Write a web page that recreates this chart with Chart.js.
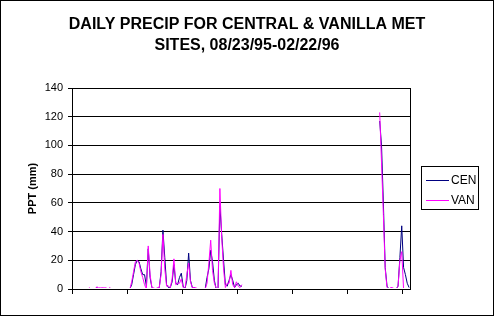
<!DOCTYPE html>
<html>
<head>
<meta charset="utf-8">
<script src="https://cdn.jsdelivr.net/npm/chart.js@4"></script>
<style>
  html, body { margin: 0; padding: 0; background: #fff; }
  canvas { display: block; }
</style>
</head>
<body>
<canvas id="chart" width="494" height="316"></canvas>
<script>
const FONT = "'Liberation Sans', Arial, sans-serif"
const _ = null // missing days

const titleLines = ['DAILY PRECIP FOR CENTRAL & VANILLA MET', 'SITES, 08/23/95-02/22/96']
const yTitle = 'PPT (mm)'
const yTicks = [0, 20, 40, 60, 80, 100, 120, 140]
const seriesNames = ['CEN', 'VAN']
const seriesColors = ['#000080', '#ff00ff']

// one category per day, 08/23/95 .. 02/22/96
const days = []
for (let i = 0; i < 184; i++) {
  const d = new Date(1995, 7, 23 + i)
  const p = n => String(n).padStart(2, '0')
  days.push(p(d.getMonth() + 1) + '/' + p(d.getDate()) + '/' + p(d.getFullYear() % 100))
}

// daily precipitation, mm
const CEN = [
  0, 0, 0, 0, 0, 0, 0, 0, 0, 0,
  0, 0, 0, 1, 0, 0, 0.5, 0, 0, 0,
  0, 0, 0, 0, 0, 0, 0, 0, 0, 0,
  0, 0, 3, 10, 17, 20, 19, 14, 10, 10,
  2, 28, 8, 1, 0, 0, 0, 1, 12, 41,
  22, 3, 1, 1, 5, 17, 4, 3, 8, 11,
  2, 0, 6, 25, 6, 1, 1, 0, 0, 0,
  0, 0, 0, 8, 14, 27, 19, 6, 0, 0,
  58, 38, 20, 3, 2, 6, 10, 6, 1, 3,
  4, 2, 2, _, _, _, _, _, _, _,
  _, _, _, _, _, _, _, _, _, _,
  _, _, _, _, _, _, _, _, _, _,
  _, _, _, _, _, _, _, _, _, _,
  _, _, _, _, _, _, _, _, _, _,
  _, _, _, _, _, _, _, _, _, _,
  _, _, _, _, _, _, _, _, _, _,
  _, _, _, _, _, _, _, 117, 100, 60,
  15, 2, 0, 0, 0, 0, 0, 2, 22, 44,
  15, 10, 4, 1
]
const VAN = [
  0, 0, 0, 0, 0, 0, 0, 0, 0, 0.8,
  0, 0, 0, 1.5, 0.8, 0.8, 0.8, 0.8, 0.8, 0,
  1, 0, 0, 0, 0, 0, 0, 0, 0, 0,
  0, 0, 5, 12, 19, 20, 18, 12, 8, 3,
  0, 30, 10, 1, 0.8, 0, 1, 1, 10, 38,
  14, 2, 2, 1, 7, 21, 3, 4, 4, 7,
  1, 0, 10, 18, 5, 1, 1, 0.8, 0, 0,
  0, 0, 0, 4, 18, 34, 13, 4, 0.8, 0,
  70, 36, 14, 1, 4, 4, 13, 3, 1, 5,
  2, 1, 3, _, _, _, _, _, _, _,
  _, _, _, _, _, _, _, _, _, _,
  _, _, _, _, _, _, _, _, _, _,
  _, _, _, _, _, _, _, _, _, _,
  _, _, _, _, _, _, _, _, _, _,
  _, _, _, _, _, _, _, _, _, _,
  _, _, _, _, _, _, _, _, _, _,
  _, _, _, _, _, _, _, 123, 88, 52,
  14, 1, 0, 1, 1, 0, 0, 2, 20, 26,
  0, 0, 0, 0
]

// white page, title, outer frame, right edge of plot and the boxed legend
const framePlugin = {
  id: 'frame',
  beforeDraw(chart) {
    const ctx = chart.ctx
    ctx.save()
    ctx.fillStyle = '#fff'
    ctx.fillRect(0, 0, chart.width, chart.height)
    ctx.restore()
  },
  afterDraw(chart) {
    const { ctx, chartArea: a } = chart
    ctx.save()
    ctx.fillStyle = '#000'
    ctx.textAlign = 'center'
    ctx.textBaseline = 'middle'
    ctx.font = 'bold 16px ' + FONT
    titleLines.forEach((t, i) => ctx.fillText(t, 247, 25 + i * 21))

    ctx.strokeStyle = '#000'
    ctx.lineWidth = 1
    const rx = Math.round(a.right) + 0.5
    ctx.beginPath()
    ctx.moveTo(rx, a.top)
    ctx.lineTo(rx, a.bottom)
    ctx.stroke()
    ctx.strokeRect(0.5, 0.5, chart.width - 1, chart.height - 1)

    // legend
    ctx.strokeRect(421.5, 166.5, 57, 43)
    ctx.font = '12px ' + FONT
    ctx.textAlign = 'left'
    chart.data.datasets.forEach((ds, i) => {
      const y = 180.5 + i * 20
      ctx.strokeStyle = ds.borderColor
      ctx.beginPath()
      ctx.moveTo(426, y)
      ctx.lineTo(449, y)
      ctx.stroke()
      ctx.fillText(ds.label, 451, y)
    })
    ctx.restore()
  }
}

const lineOpts = {
  borderWidth: 1,
  pointRadius: 0,
  tension: 0,
  spanGaps: false,
  clip: { left: 0, top: 0, right: 0, bottom: -1 }
}

new Chart(document.getElementById('chart'), {
  type: 'line',
  data: {
    labels: days,
    datasets: [
      Object.assign({ label: seriesNames[0], data: CEN, borderColor: seriesColors[0], order: 1 }, lineOpts),
      Object.assign({ label: seriesNames[1], data: VAN, borderColor: seriesColors[1], order: 0 }, lineOpts)
    ]
  },
  options: {
    responsive: false,
    devicePixelRatio: 1,
    animation: false,
    events: [],
    layout: { padding: { left: 0, right: 84, top: 88, bottom: 0 } },
    plugins: {
      legend: { display: false },
      tooltip: { enabled: false },
      title: { display: false }
    },
    scales: {
      x: {
        type: 'category',
        offset: true,
        ticks: { display: false, autoSkip: false },
        grid: {
          offset: true,
          drawOnChartArea: false,
          drawTicks: true,
          tickLength: 5,
          color: c => (c.index % 30 === 0 ? '#000' : 'rgba(0,0,0,0)')
        },
        border: { color: '#000' },
        afterFit: s => { s.height = 27 }
      },
      y: {
        min: yTicks[0],
        max: yTicks[yTicks.length - 1],
        ticks: {
          stepSize: yTicks[1] - yTicks[0],
          color: '#000',
          padding: 5,
          font: { family: FONT, size: 11 }
        },
        grid: { color: '#000', tickLength: 4 },
        border: { color: '#000' },
        title: {
          display: true,
          text: yTitle,
          color: '#000',
          font: { family: FONT, size: 11, weight: 'bold' },
          padding: { top: 26, bottom: 0 }
        },
        afterFit: s => { s.width = 72 }
      }
    }
  },
  plugins: [framePlugin]
})
</script>
</body>
</html>
